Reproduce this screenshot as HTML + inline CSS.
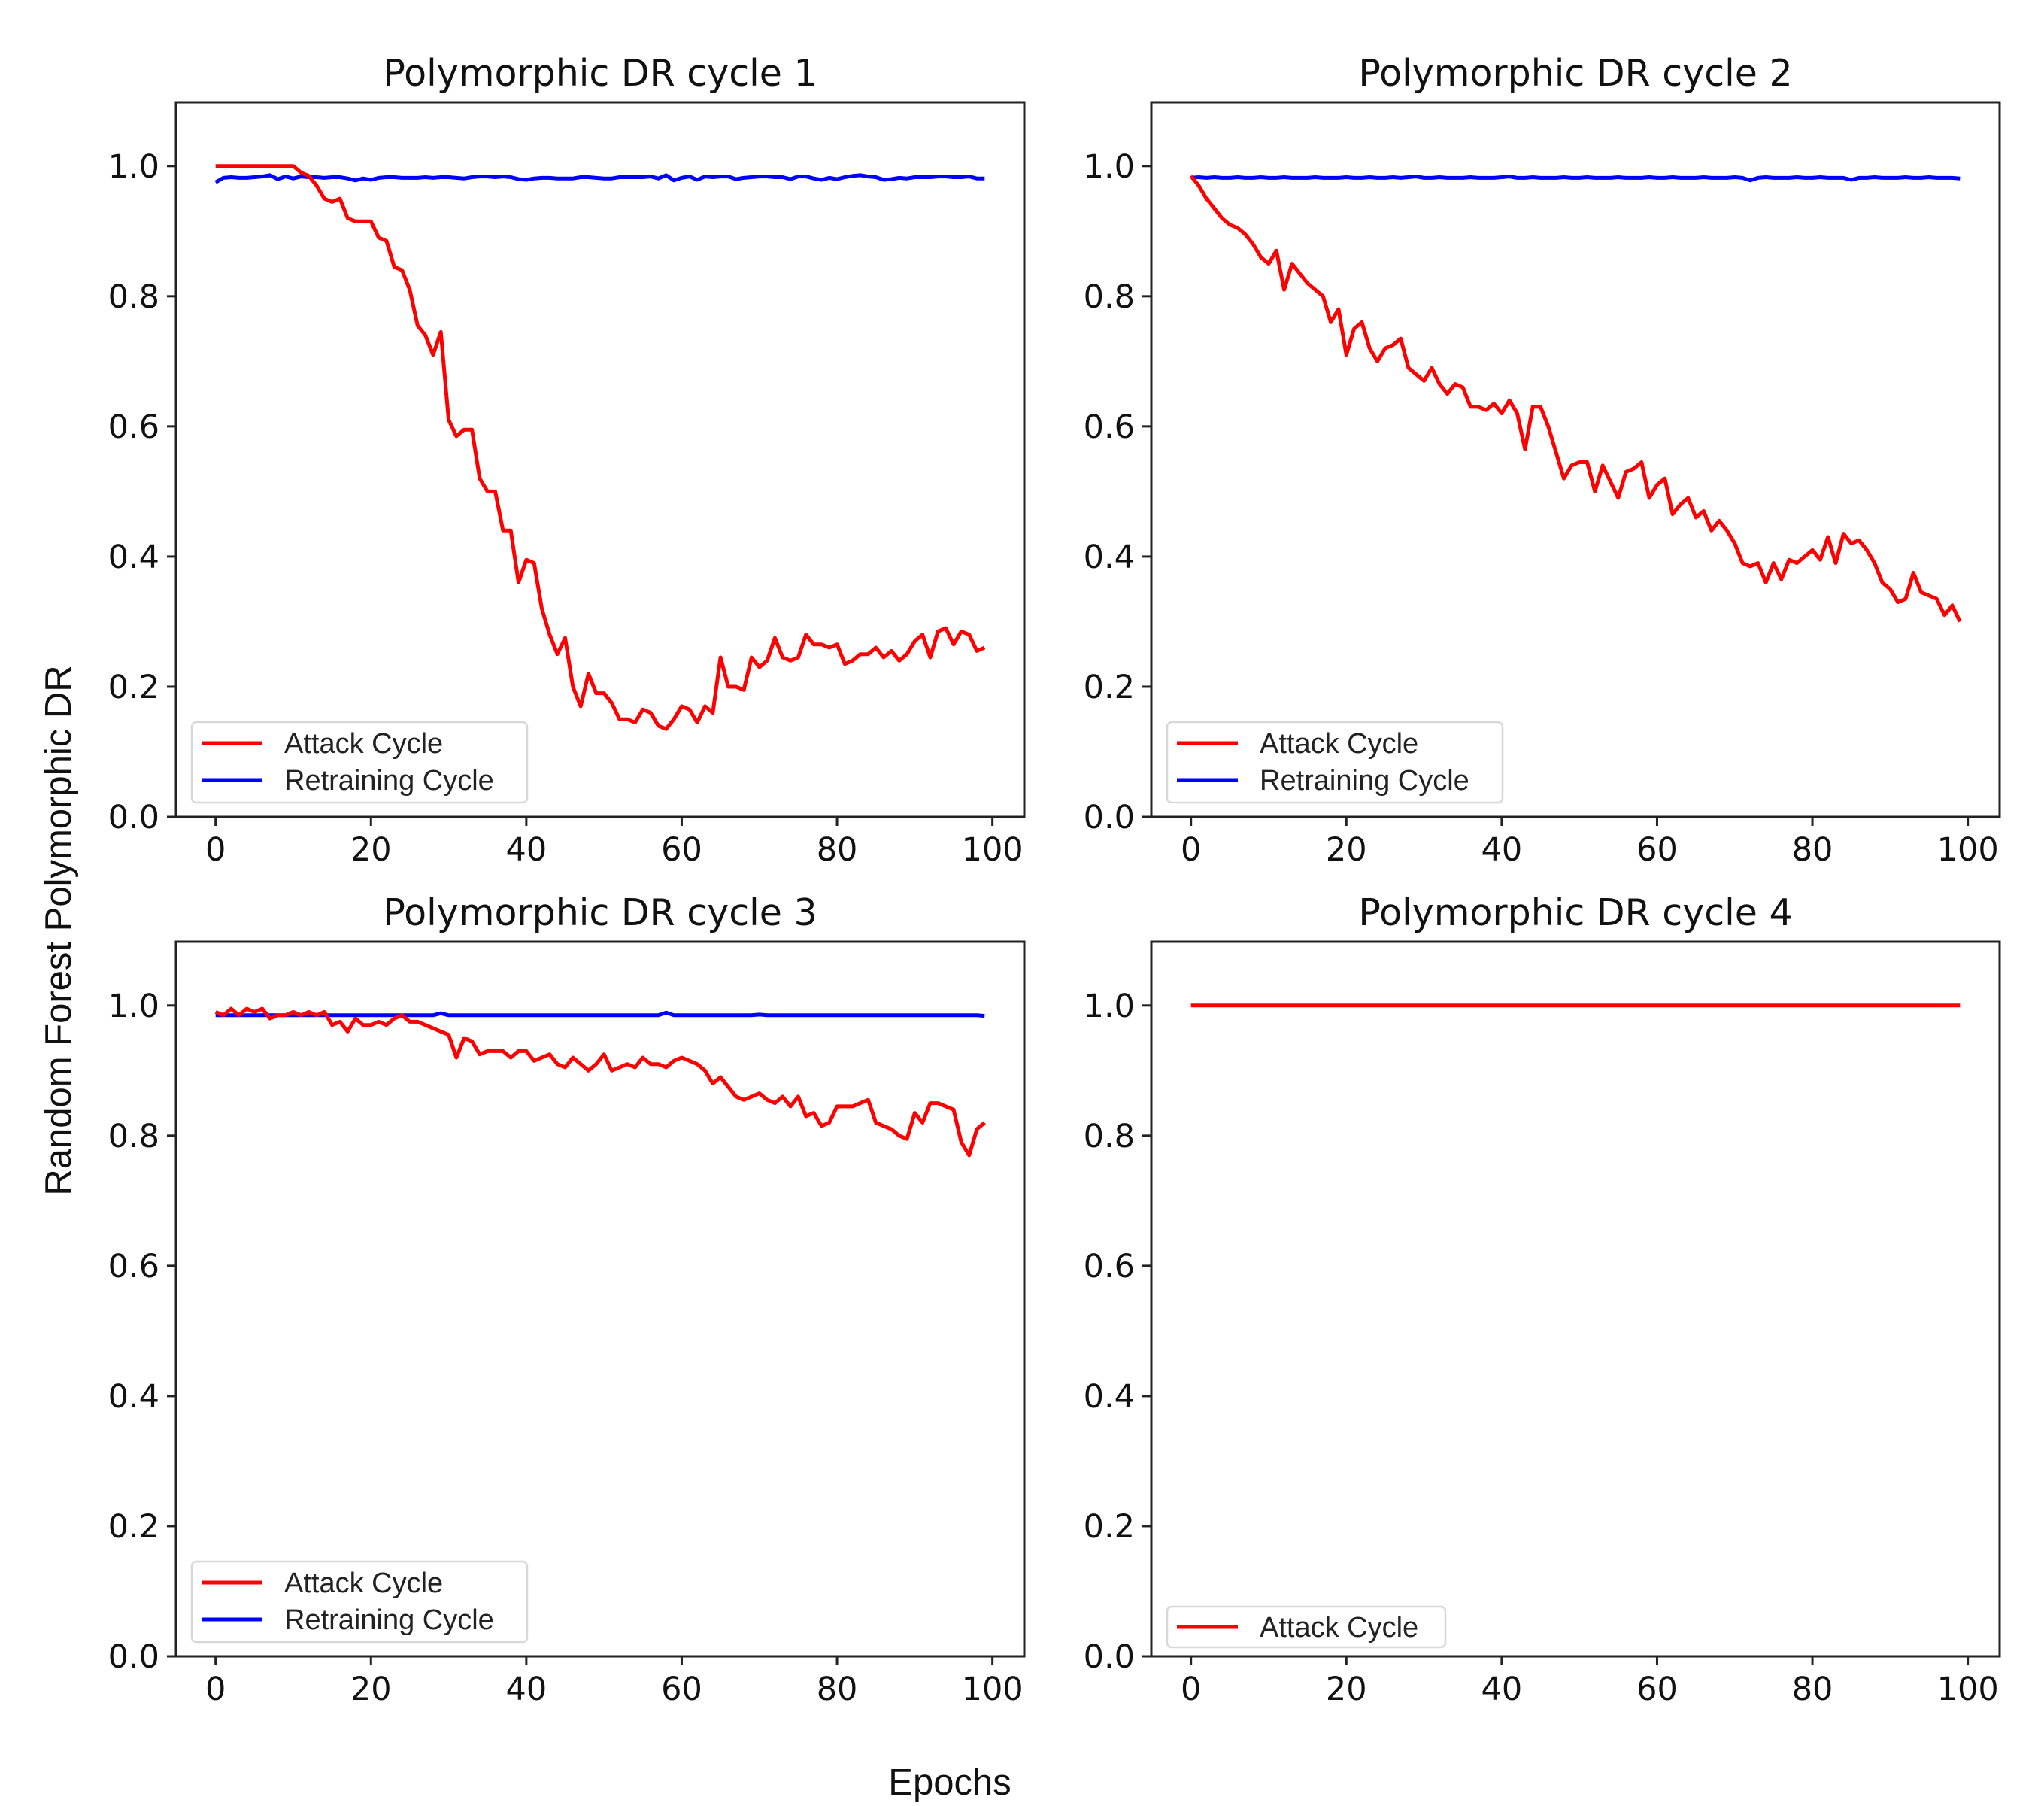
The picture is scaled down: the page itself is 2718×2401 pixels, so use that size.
<!DOCTYPE html>
<html><head><meta charset="utf-8">
<style>
html,body{margin:0;padding:0;background:#fff;}
svg{display:block;}
.tick{font-family:"DejaVu Sans","Liberation Sans",sans-serif;font-size:43px;fill:#111;}
.title{font-family:"DejaVu Sans","Liberation Sans",sans-serif;font-size:49px;fill:#111;}
.leg{font-family:"Liberation Sans","DejaVu Sans",sans-serif;font-size:38px;fill:#222;}
.lab{font-family:"Liberation Sans","DejaVu Sans",sans-serif;font-size:49px;fill:#111;}
</style></head>
<body>
<svg id="fig" width="2718" height="2401" viewBox="0 0 2718 2401" xmlns="http://www.w3.org/2000/svg">
<text class="lab" x="1263" y="2386" text-anchor="middle">Epochs</text>
<text class="lab" x="0" y="0" text-anchor="middle" transform="translate(94,1237) rotate(-90)">Random Forest Polymorphic DR</text>
</svg>
<script>
const xTicks=[0,20,40,60,80,100];
const yTicks=[0,0.2,0.4,0.6,0.8,1.0];
const yTickLabels=["0.0","0.2","0.4","0.6","0.8","1.0"];
const panelTitles=["Polymorphic DR cycle 1","Polymorphic DR cycle 2","Polymorphic DR cycle 3","Polymorphic DR cycle 4"];
const attack1=[1,1,1,1,1,1,1,1,1,1,1,.99,.985,.97,.95,.945,.95,.92,.915,.915,.915,.89,.885,.845,.84,.81,.755,.74,.71,.745,.61,.585,.595,.595,.52,.5,.5,.44,.44,.36,.395,.39,.32,.28,.25,.275,.2,.17,.22,.19,.19,.175,.15,.15,.145,.165,.16,.14,.135,.15,.17,.165,.145,.17,.16,.245,.2,.2,.195,.245,.23,.24,.275,.245,.24,.245,.28,.265,.265,.26,.265,.235,.24,.25,.25,.26,.245,.255,.24,.25,.27,.28,.245,.285,.29,.265,.285,.28,.255,.26];
const retrain1=[.975,.982,.983,.982,.982,.983,.984,.986,.98,.984,.981,.984,.983,.983,.982,.983,.983,.981,.978,.981,.979,.982,.983,.983,.982,.982,.982,.983,.982,.983,.983,.982,.981,.983,.984,.984,.983,.984,.983,.98,.979,.981,.982,.982,.981,.981,.981,.983,.983,.982,.981,.981,.983,.983,.983,.983,.984,.981,.986,.978,.982,.984,.979,.984,.983,.984,.984,.98,.982,.983,.984,.984,.983,.983,.98,.984,.984,.981,.979,.982,.98,.983,.985,.986,.984,.983,.979,.98,.982,.981,.983,.983,.983,.984,.984,.983,.983,.984,.981,.981];
const attack2=[.985,.97,.95,.935,.92,.91,.905,.895,.88,.86,.85,.87,.81,.85,.835,.82,.81,.80,.76,.78,.71,.75,.76,.72,.70,.72,.725,.735,.69,.68,.67,.69,.665,.65,.665,.66,.63,.63,.625,.635,.62,.64,.62,.565,.63,.63,.60,.56,.52,.54,.545,.545,.50,.54,.515,.49,.53,.535,.545,.49,.51,.52,.465,.48,.49,.46,.47,.44,.455,.44,.42,.39,.385,.39,.36,.39,.365,.395,.39,.40,.41,.395,.43,.39,.435,.42,.425,.41,.39,.36,.35,.33,.335,.375,.345,.34,.335,.31,.325,.30];
const retrain2=[.982,.983,.982,.983,.982,.982,.983,.982,.982,.983,.982,.982,.983,.982,.982,.982,.983,.982,.982,.982,.983,.982,.982,.983,.982,.982,.983,.982,.983,.984,.982,.982,.983,.982,.982,.982,.983,.982,.982,.982,.983,.984,.982,.982,.983,.982,.982,.982,.983,.982,.982,.983,.982,.982,.982,.983,.982,.982,.982,.983,.982,.982,.983,.982,.982,.982,.983,.982,.982,.982,.983,.982,.978,.982,.983,.982,.982,.982,.983,.982,.982,.983,.982,.982,.982,.979,.982,.982,.983,.982,.982,.982,.983,.982,.982,.983,.982,.982,.982,.981];
const attack3=[.99,.985,.995,.985,.995,.99,.995,.98,.985,.985,.99,.985,.99,.985,.99,.97,.975,.96,.98,.97,.97,.975,.97,.98,.985,.975,.975,.97,.965,.96,.955,.92,.95,.945,.925,.93,.93,.93,.92,.93,.93,.915,.92,.925,.91,.905,.92,.91,.90,.91,.925,.90,.905,.91,.905,.92,.91,.91,.905,.915,.92,.915,.91,.90,.88,.89,.875,.86,.855,.86,.865,.855,.85,.86,.845,.86,.83,.835,.815,.82,.845,.845,.845,.85,.855,.82,.815,.81,.80,.795,.835,.82,.85,.85,.845,.84,.79,.77,.81,.82];
const retrain3=[.985,.985,.985,.985,.985,.985,.985,.985,.985,.985,.985,.985,.985,.985,.985,.985,.985,.985,.985,.985,.985,.985,.985,.985,.985,.985,.985,.985,.985,.988,.985,.985,.985,.985,.985,.985,.985,.985,.985,.985,.985,.985,.985,.985,.985,.985,.985,.985,.985,.985,.985,.985,.985,.985,.985,.985,.985,.985,.989,.985,.985,.985,.985,.985,.985,.985,.985,.985,.985,.985,.986,.985,.985,.985,.985,.985,.985,.985,.985,.985,.985,.985,.985,.985,.985,.985,.985,.985,.985,.985,.985,.985,.985,.985,.985,.985,.985,.985,.985,.984];
const attack4=[1,1,1,1,1,1,1,1,1,1,1,1,1,1,1,1,1,1,1,1,1,1,1,1,1,1,1,1,1,1,1,1,1,1,1,1,1,1,1,1,1,1,1,1,1,1,1,1,1,1,1,1,1,1,1,1,1,1,1,1,1,1,1,1,1,1,1,1,1,1,1,1,1,1,1,1,1,1,1,1,1,1,1,1,1,1,1,1,1,1,1,1,1,1,1,1,1,1,1,1];

const NS="http://www.w3.org/2000/svg";
const svg=document.getElementById('fig');
function mk(tag,attrs,parent){const e=document.createElementNS(NS,tag);for(const k in attrs)e.setAttribute(k,attrs[k]);(parent||svg).appendChild(e);return e;}

const W=1128,H=950,XMIN=-5.1,XMAX=104.1,YMIN=0,YMAX=1.098;
const panels=[
 {L:234,T:136,a:attack1,r:retrain1,legY:960,legH:107},
 {L:1531,T:136,a:attack2,r:retrain2,legY:960,legH:107},
 {L:234,T:1252,a:attack3,r:retrain3,legY:2076,legH:107},
 {L:1531,T:1252,a:attack4,r:null,legY:2136,legH:54}
];
panels.forEach((p,i)=>{
  const g=mk('g',{});
  
  
  const sx=v=>p.L+(v-XMIN)/(XMAX-XMIN)*W;
  const sy=v=>p.T+H-(v-YMIN)/(YMAX-YMIN)*H;
  const t=mk('text',{class:'title',x:p.L+W/2,y:p.T-22,'text-anchor':'middle'},g);
  t.textContent=panelTitles[i];
  
  
  xTicks.forEach(v=>{
    mk('line',{x1:sx(v),x2:sx(v),y1:p.T+H,y2:p.T+H+12,stroke:'#222','stroke-width':3},g);
    const tx=mk('text',{class:'tick',x:sx(v),y:p.T+H+58,'text-anchor':'middle'},g);
    tx.textContent=String(v);
    
    
  });
  yTicks.forEach((v,k)=>{
    mk('line',{x1:p.L-12,x2:p.L,y1:sy(v),y2:sy(v),stroke:'#222','stroke-width':3},g);
    const ty=mk('text',{class:'tick',x:p.L-22,y:sy(v)+15,'text-anchor':'end'},g);
    ty.textContent=yTickLabels[k];
    
    
  });
  const series=[];
  if(p.r) series.push({d:p.r,c:'#0000ff',n:'retraining-cycle-line'});
  series.push({d:p.a,c:'#ff0000',n:'attack-cycle-line'});
  series.forEach(s=>{
    const pts=s.d.map((v,k)=>sx(k).toFixed(1)+','+sy(v).toFixed(1)).join(' ');
    const pl=mk('polyline',{points:pts,fill:'none',stroke:s.c,'stroke-width':5,'stroke-linejoin':'round'},g);
    
    
  });
  const fr=mk('rect',{x:p.L,y:p.T,width:W,height:H,fill:'none',stroke:'#222','stroke-width':3},g);
  
  
  const lg=mk('g',{},g);
  
  
  const lw=p.r?446:370;
  mk('rect',{x:p.L+21,y:p.legY,width:lw,height:p.legH,rx:6,fill:'#fff','fill-opacity':0.85,stroke:'#d8d8d8','stroke-width':2.5},lg);
  const entries=p.r?[['Attack Cycle','#ff0000'],['Retraining Cycle','#0000ff']]:[['Attack Cycle','#ff0000']];
  entries.forEach((e,k)=>{
    const yy=p.legY+(p.r?28+k*49:27);
    const ge=mk('g',{},lg);
    
    
    mk('line',{x1:p.L+34,x2:p.L+115,y1:yy,y2:yy,stroke:e[1],'stroke-width':5},ge);
    const lt=mk('text',{class:'leg',x:p.L+144,y:yy+13},ge);
    lt.textContent=e[0];
  });
});
</script>
</body></html>
